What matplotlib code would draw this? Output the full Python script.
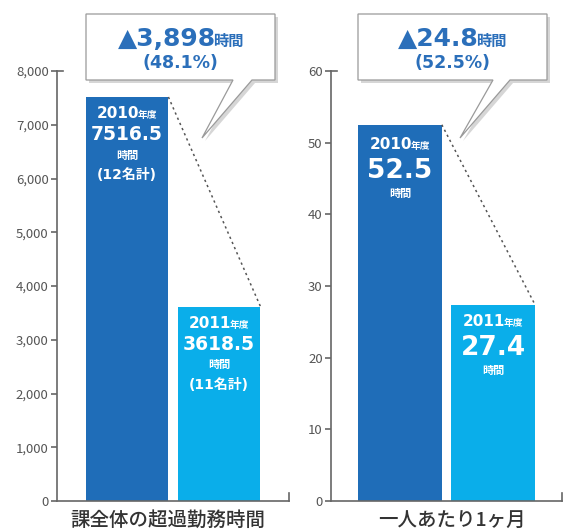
import matplotlib
matplotlib.use("Agg")
import matplotlib.pyplot as plt
from matplotlib.patches import Polygon

JP = ["Noto Sans CJK JP", "DejaVu Sans"]
NUM = ["DejaVu Sans", "Noto Sans CJK JP"]
plt.rcParams["font.family"] = JP

# data
years = ["2010", "2011"]
total_hours = [7516.5, 3618.5]
total_people = ["(12名計)", "(11名計)"]
per_person = [52.5, 27.4]
total_diff = "▲3,898"
total_pct = "(48.1%)"
person_diff = "▲24.8"
person_pct = "(52.5%)"
left_ticks = [0, 1000, 2000, 3000, 4000, 5000, 6000, 7000, 8000]
right_ticks = [0, 10, 20, 30, 40, 50, 60]
left_title = "課全体の超過勤務時間"
right_title = "一人あたり1ヶ月"

DARK = "#1f6db8"
LIGHT = "#0aaeea"
BLUE_TXT = "#2b6fba"
AXIS = "#666666"
W, H = 563, 530

fig = plt.figure(figsize=(W / 100, H / 100), dpi=100)
ax1 = fig.add_axes([57 / W, 29 / H, 232 / W, 430 / H])
ax2 = fig.add_axes([331 / W, 29 / H, 231 / W, 430 / H])
renderer = fig.canvas.get_renderer()

width = 0.9
xs = [0, 1]


def fy(y):
    # top-down pixel -> figure fraction
    return 1 - y / H


def style_axis(ax, ticks, labels, xlim):
    ax.set_xlim(*xlim)
    ax.set_ylim(ticks[0], ticks[-1])
    ax.set_yticks(ticks)
    ax.set_yticklabels(labels, fontsize=9.5, color="#555555")
    ax.set_xticks([])
    for s in ["top", "right"]:
        ax.spines[s].set_visible(False)
    for s in ["left", "bottom"]:
        ax.spines[s].set_color(AXIS)
        ax.spines[s].set_linewidth(1.2)
    ax.tick_params(axis="y", length=4, width=1.2, color=AXIS, pad=2)
    ax.plot([0, 0.025], [1, 1], transform=ax.transAxes, color=AXIS, lw=1.2, clip_on=False)
    ax.plot([1, 1], [0, 0.018], transform=ax.transAxes, color=AXIS, lw=1.2, clip_on=False)


def pair(xc, ybase, a, sa, b, sb, color, gap=-2, zorder=6):
    # big text followed by small japanese unit, centred on xc, common baseline
    t1 = fig.text(0, fy(ybase), a, fontsize=sa, family=NUM, fontweight="bold",
                  ha="left", va="baseline", color=color, zorder=zorder)
    t2 = fig.text(0, fy(ybase), b, fontsize=sb, family=JP, fontweight="bold",
                  ha="left", va="baseline", color=color, zorder=zorder)
    w1 = t1.get_window_extent(renderer).width
    w2 = t2.get_window_extent(renderer).width
    left = xc - (w1 + gap + w2) / 2
    t1.set_x(left / W)
    t2.set_x((left + w1 + gap) / W)


def single(xc, yc, s, size, family, color="white", weight="bold", zorder=6):
    fig.text(xc / W, fy(yc), s, fontsize=size, family=family, fontweight=weight,
             ha="center", va="center", color=color, zorder=zorder)


def bar_pos(ax, x, v):
    px, py = ax.transData.transform((x, v))
    return px, H - py


# left panel
ax1.bar(xs, total_hours, width=width, color=[DARK, LIGHT], zorder=2)
style_axis(ax1, left_ticks, [f"{t:,}" for t in left_ticks], (-0.76, 1.76))
ax1.plot([xs[0] + width / 2, xs[1] + width / 2], total_hours, color="#555555",
         lw=1.1, ls=(0, (1.5, 2.2)), zorder=3)
for x, v, yr, ppl in zip(xs, total_hours, years, total_people):
    cx, top = bar_pos(ax1, x, v)
    pair(cx, top + 21, yr, 11, "年度", 7, "white", gap=-1)
    single(cx, top + 38, f"{v}", 13.5, NUM)
    single(cx, top + 58, "時間", 8, JP)
    single(cx, top + 78, ppl, 10, NUM)

# right panel
ax2.bar(xs, per_person, width=width, color=[DARK, LIGHT], zorder=2)
style_axis(ax2, right_ticks, [str(t) for t in right_ticks], (-0.74, 1.74))
ax2.plot([xs[0] + width / 2, xs[1] + width / 2], per_person, color="#555555",
         lw=1.1, ls=(0, (1.5, 2.2)), zorder=3)
for x, v, yr in zip(xs, per_person, years):
    cx, top = bar_pos(ax2, x, v)
    off = 3 if x == 0 else 0
    pair(cx, top + 21 + off, yr, 11, "年度", 7, "white", gap=-1)
    single(cx, top + 43 + off, f"{v}", 19, NUM)
    single(cx, top + 66 + off, "時間", 8, JP)

# bottom titles
single(168, 520, left_title, 14, JP, color="#333333", weight="medium")
single(452, 520, right_title, 14, JP, color="#333333", weight="medium")


def callout(x0, x1, y0, y1, b0, b1, tip, big, pct):
    pts = [(x0, y0), (x1, y0), (x1, y1), (b1, y1), tip, (b0, y1), (x0, y1)]
    fpts = [(px / W, fy(py)) for px, py in pts]
    shadow = [(px + 3 / W, py - 3 / H) for px, py in fpts]
    fig.patches.append(Polygon(shadow, closed=True, transform=fig.transFigure,
                               facecolor="#bbbbbb", edgecolor="none", alpha=0.6, zorder=4))
    fig.patches.append(Polygon(fpts, closed=True, transform=fig.transFigure,
                               facecolor="white", edgecolor="#9a9a9a", lw=0.9, zorder=5))
    cx = (x0 + x1) / 2
    pair(cx, 46, big, 18, "時間", 11, BLUE_TXT, gap=-3)
    single(cx, 63, pct, 12.5, NUM, color=BLUE_TXT)


callout(86, 275, 14, 80, 233, 252, (202, 138), total_diff, total_pct)
callout(358, 547, 14, 80, 493, 510, (460, 138), person_diff, person_pct)

fig.savefig("out.png", dpi=100)
